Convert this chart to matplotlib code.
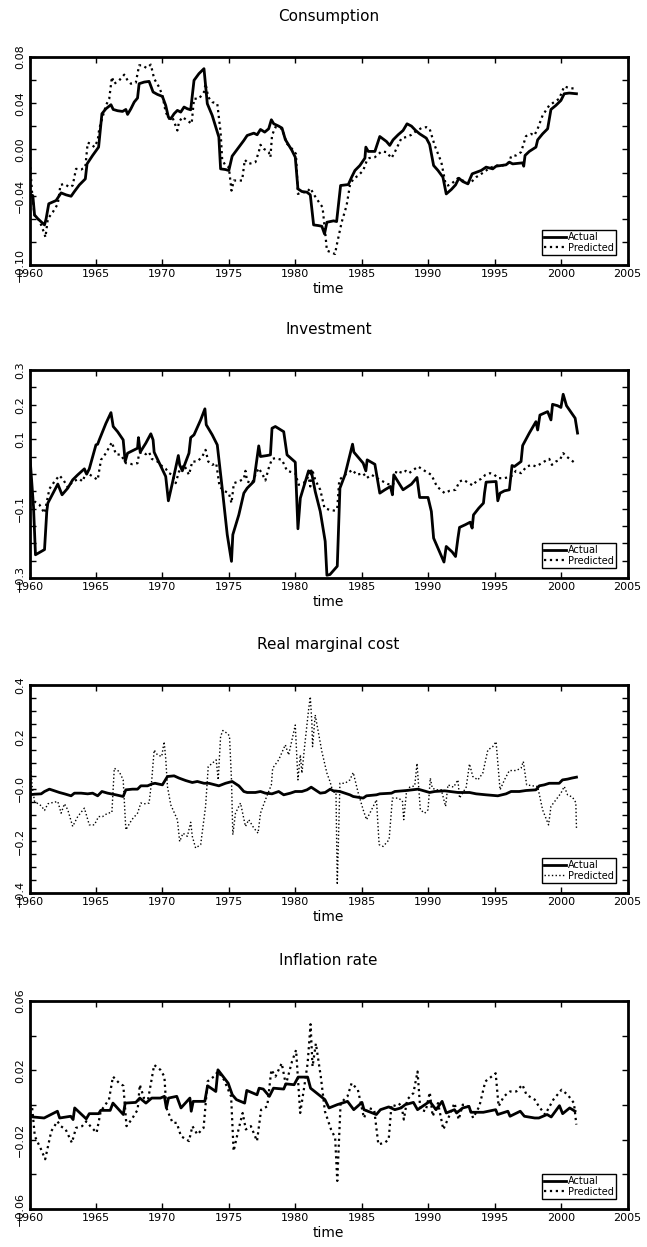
import numpy as np
import matplotlib
matplotlib.use("Agg")
import matplotlib.pyplot as plt

plt.rcParams['font.family'] = ['DejaVu Sans']

# (year, value) vertices, one list per series
cons_actual = [(1960.0, -0.0385), (1960.25, -0.040), (1960.38, -0.0567), (1960.63, -0.060), (1961.13, -0.0653),
               (1961.25, -0.060), (1961.45, -0.047), (1962.0, -0.0442), (1962.38, -0.0376), (1962.75, -0.0393),
               (1963.13, -0.0405), (1963.38, -0.0364), (1963.75, -0.0307), (1964.2, -0.0255), (1964.33, -0.0125),
               (1964.75, -0.0052), (1965.2, 0.002), (1965.45, 0.0309), (1965.75, 0.0352), (1966.13, 0.0387),
               (1966.3, 0.0346), (1966.63, 0.0335), (1967.0, 0.0329), (1967.25, 0.0346), (1967.38, 0.0303),
               (1967.63, 0.0352), (1967.88, 0.041), (1968.13, 0.0445), (1968.25, 0.0569), (1968.63, 0.0583),
               (1969.0, 0.0589), (1969.3, 0.0497), (1969.63, 0.0476), (1970.0, 0.0459), (1970.25, 0.0381),
               (1970.45, 0.028), (1970.63, 0.0265), (1970.88, 0.0309), (1971.13, 0.0338), (1971.38, 0.0323),
               (1971.63, 0.0367), (1971.88, 0.0352), (1972.13, 0.0343), (1972.38, 0.0598), (1972.75, 0.0656),
               (1973.13, 0.0699), (1973.38, 0.0396), (1973.75, 0.0294), (1974.25, 0.0107), (1974.38, -0.0168),
               (1974.75, -0.0174), (1975.0, -0.0182), (1975.25, -0.0058), (1975.75, 0.002), (1976.13, 0.0078),
               (1976.38, 0.0121), (1976.88, 0.0141), (1977.13, 0.0127), (1977.38, 0.0173), (1977.7, 0.015),
               (1978.0, 0.0179), (1978.2, 0.0257), (1978.38, 0.0222), (1978.75, 0.0202), (1979.0, 0.0185),
               (1979.25, 0.0086), (1979.75, -0.0009), (1980.0, -0.0067), (1980.2, -0.0341), (1980.5, -0.0364),
               (1980.88, -0.037), (1981.13, -0.0393), (1981.38, -0.0653), (1981.75, -0.0659), (1982.0, -0.0665),
               (1982.2, -0.0731), (1982.38, -0.063), (1982.88, -0.0618), (1983.11, -0.0624), (1983.41, -0.0312),
               (1983.99, -0.0304), (1984.24, -0.024), (1984.49, -0.0182), (1984.86, -0.0139), (1985.24, -0.0075),
               (1985.31, 0.002), (1985.49, -0.0017), (1985.99, -0.0017), (1986.36, 0.0112), (1986.86, 0.0069),
               (1987.11, 0.0035), (1987.36, 0.0083), (1987.74, 0.0127), (1988.11, 0.0164), (1988.41, 0.0222),
               (1988.74, 0.0202), (1989.06, 0.0164), (1989.36, 0.0135), (1989.86, 0.0098), (1990.11, 0.0043),
               (1990.41, -0.0139), (1990.74, -0.0182), (1991.11, -0.024), (1991.36, -0.0385), (1991.74, -0.0347),
               (1992.06, -0.0307), (1992.31, -0.0249), (1992.61, -0.0278), (1992.99, -0.0298), (1993.31, -0.0211),
               (1993.99, -0.0182), (1994.36, -0.0153), (1994.86, -0.0168), (1995.11, -0.0145), (1995.86, -0.0133),
               (1996.11, -0.011), (1996.36, -0.0125), (1997.11, -0.0116), (1997.19, -0.0145), (1997.29, -0.0052),
               (1997.61, -0.0017), (1998.11, 0.002), (1998.24, 0.0083), (1998.61, 0.0135), (1998.99, 0.0179),
               (1999.24, 0.0346), (1999.61, 0.0381), (1999.99, 0.0424), (2000.24, 0.0482), (2000.61, 0.0488),
               (2001.16, 0.0482)]

cons_pred = [(1960.0, -0.0052), (1960.2, -0.0385), (1960.38, -0.0572), (1960.75, -0.0616), (1961.13, -0.0731),
             (1961.2, -0.076), (1961.38, -0.060), (1961.75, -0.0543), (1962.13, -0.0471), (1962.33, -0.0307),
             (1962.63, -0.0298), (1963.0, -0.0327), (1963.25, -0.0312), (1963.5, -0.0168), (1963.88, -0.0174),
             (1964.2, -0.0153), (1964.38, 0.0058), (1964.63, 0.0049), (1964.88, 0.002), (1965.13, 0.0078),
             (1965.25, 0.0179), (1965.75, 0.0381), (1966.0, 0.0439), (1966.2, 0.0627), (1966.38, 0.0569),
             (1966.75, 0.0598), (1967.13, 0.0647), (1967.38, 0.0598), (1967.63, 0.0569), (1968.0, 0.0578),
             (1968.25, 0.0728), (1968.5, 0.0728), (1968.8, 0.0705), (1969.13, 0.0734), (1969.38, 0.0612),
             (1969.75, 0.054), (1970.0, 0.0468), (1970.25, 0.0323), (1970.5, 0.0265), (1970.75, 0.028),
             (1971.13, 0.0164), (1971.25, 0.0237), (1971.5, 0.028), (1971.88, 0.0251), (1972.2, 0.0222),
             (1972.38, 0.0439), (1972.75, 0.0439), (1973.13, 0.0497), (1973.25, 0.0569), (1973.45, 0.0453),
             (1973.75, 0.041), (1974.13, 0.0396), (1974.38, 0.015), (1974.5, -0.009), (1974.75, -0.0139),
             (1975.0, -0.0153), (1975.2, -0.0356), (1975.38, -0.0269), (1975.63, -0.0269), (1976.0, -0.0269),
             (1976.2, -0.009), (1976.5, -0.0125), (1977.0, -0.011), (1977.25, -0.0023), (1977.38, 0.004),
             (1977.63, 0.0006), (1978.0, -0.0023), (1978.13, -0.0067), (1978.25, 0.0121), (1978.5, 0.0193),
             (1979.0, 0.0179), (1979.38, 0.0049), (1979.75, 0.0006), (1980.05, -0.0038), (1980.2, -0.0385),
             (1980.5, -0.037), (1980.88, -0.037), (1981.13, -0.0335), (1981.45, -0.0399), (1981.75, -0.0451),
             (1982.05, -0.050), (1982.25, -0.0717), (1982.38, -0.0876), (1982.63, -0.0887), (1982.99, -0.0905),
             (1983.11, -0.0833), (1983.49, -0.063), (1983.86, -0.0486), (1984.11, -0.0312), (1984.36, -0.0255),
             (1984.74, -0.0226), (1985.11, -0.0182), (1985.36, -0.0104), (1985.56, -0.0075), (1985.99, -0.0067),
             (1986.49, -0.0017), (1986.86, -0.0023), (1987.24, -0.0075), (1987.49, -0.0023), (1987.99, 0.0098),
             (1988.36, 0.0107), (1988.74, 0.0127), (1988.99, 0.015), (1989.49, 0.0185), (1989.86, 0.0193),
             (1990.11, 0.0179), (1990.49, 0.0035), (1990.99, -0.011), (1991.31, -0.0298), (1991.49, -0.0312),
             (1991.74, -0.0298), (1992.24, -0.0249), (1992.61, -0.0269), (1993.11, -0.0298), (1993.61, -0.024),
             (1994.11, -0.0203), (1994.61, -0.0162), (1995.11, -0.0139), (1995.61, -0.0139), (1996.11, -0.011),
             (1996.24, -0.0058), (1996.61, -0.0052), (1996.99, -0.0023), (1997.36, 0.0115), (1997.74, 0.0135),
             (1997.99, 0.0121), (1998.24, 0.0179), (1998.61, 0.0294), (1999.11, 0.0381), (1999.49, 0.041),
             (1999.86, 0.0439), (2000.24, 0.0546), (2000.61, 0.0531), (2001.11, 0.0526)]

inv_actual = [(1960.05, 0.0408), (1960.3, -0.0936), (1960.45, -0.233), (1961.13, -0.218), (1961.3, -0.108),
              (1961.38, -0.084), (1962.13, -0.029), (1962.45, -0.060), (1962.88, -0.0408), (1963.25, -0.0168),
              (1963.63, -0.0024), (1964.13, 0.0149), (1964.3, -0.0005), (1964.5, 0.0149), (1965.0, 0.084),
              (1965.13, 0.086), (1965.25, 0.0984), (1965.75, 0.146), (1966.13, 0.177), (1966.3, 0.137),
              (1966.63, 0.122), (1967.05, 0.0984), (1967.2, 0.036), (1967.38, 0.060), (1967.75, 0.067),
              (1968.13, 0.0744), (1968.2, 0.105), (1968.33, 0.063), (1968.75, 0.0888), (1969.13, 0.116),
              (1969.3, 0.0984), (1969.38, 0.063), (1970.25, -0.0072), (1970.45, -0.0773), (1970.75, -0.0264),
              (1971.2, 0.0533), (1971.3, 0.0264), (1971.5, 0.0091), (1972.0, 0.060), (1972.13, 0.105),
              (1972.38, 0.113), (1972.88, 0.156), (1973.2, 0.188), (1973.3, 0.142), (1973.75, 0.113),
              (1974.13, 0.084), (1974.5, -0.0408), (1974.88, -0.175), (1975.2, -0.252), (1975.3, -0.175),
              (1975.75, -0.118), (1976.13, -0.0552), (1976.38, -0.0408), (1976.88, -0.0216), (1977.25, 0.0811),
              (1977.38, 0.0504), (1977.88, 0.0533), (1978.13, 0.0552), (1978.25, 0.132), (1978.5, 0.137),
              (1979.13, 0.122), (1979.38, 0.0552), (1980.0, 0.0341), (1980.2, -0.158), (1980.38, -0.0696),
              (1981.0, 0.0091), (1981.13, 0.0024), (1981.2, 0.0091), (1981.5, -0.0504), (1981.88, -0.108),
              (1982.25, -0.194), (1982.38, -0.292), (1982.61, -0.290), (1983.16, -0.266), (1983.36, -0.0408),
              (1983.74, -0.0024), (1984.31, 0.086), (1984.41, 0.063), (1985.11, 0.0312), (1985.31, 0.0091),
              (1985.41, 0.0408), (1985.99, 0.028), (1986.36, -0.0552), (1986.74, -0.0456), (1987.16, -0.036),
              (1987.31, -0.060), (1987.41, -0.0024), (1988.11, -0.0456), (1988.74, -0.0293), (1989.16, -0.010),
              (1989.36, -0.0677), (1989.99, -0.0677), (1990.24, -0.108), (1990.41, -0.185), (1990.74, -0.214),
              (1991.19, -0.254), (1991.36, -0.209), (1991.81, -0.225), (1992.06, -0.238), (1992.24, -0.185),
              (1992.36, -0.154), (1992.81, -0.146), (1993.16, -0.139), (1993.31, -0.156), (1993.41, -0.118),
              (1993.81, -0.0984), (1994.16, -0.084), (1994.24, -0.0552), (1994.36, -0.0235), (1995.11, -0.0216),
              (1995.24, -0.0773), (1995.41, -0.0552), (1995.74, -0.0485), (1996.11, -0.0456), (1996.31, 0.0245),
              (1996.49, 0.0216), (1996.99, 0.036), (1997.11, 0.0821), (1997.61, 0.118), (1998.11, 0.151),
              (1998.24, 0.127), (1998.41, 0.170), (1998.99, 0.180), (1999.24, 0.156), (1999.36, 0.201),
              (1999.74, 0.197), (1999.99, 0.192), (2000.16, 0.230), (2000.41, 0.197), (2001.06, 0.161),
              (2001.24, 0.118)]

inv_pred = [(1960.05, -0.012), (1960.13, -0.0552), (1960.38, -0.0792), (1960.75, -0.0888), (1961.13, -0.113),
            (1961.5, -0.0427), (1961.88, -0.0216), (1962.25, -0.0043), (1962.55, -0.0168), (1962.88, -0.0389),
            (1963.25, -0.0216), (1963.75, -0.0139), (1964.0, -0.0216), (1964.25, 0.0053), (1964.75, -0.0072),
            (1965.13, -0.0168), (1965.38, 0.0408), (1965.75, 0.060), (1966.2, 0.0917), (1966.5, 0.0571),
            (1966.88, 0.0552), (1967.25, 0.0312), (1967.75, 0.0283), (1968.13, 0.0312), (1968.25, 0.060),
            (1968.5, 0.063), (1968.75, 0.0571), (1969.0, 0.063), (1969.2, 0.0437), (1969.63, 0.036),
            (1970.0, 0.0216), (1970.25, 0.0149), (1970.5, 0.0024), (1970.75, -0.0024), (1971.0, -0.0264),
            (1971.25, 0.0072), (1971.63, 0.0264), (1972.0, -0.0024), (1972.25, 0.036), (1972.63, 0.036),
            (1973.0, 0.0504), (1973.25, 0.0696), (1973.45, 0.036), (1973.75, 0.0264), (1974.05, 0.0312),
            (1974.3, -0.036), (1974.63, -0.0485), (1975.0, -0.0552), (1975.2, -0.084), (1975.38, -0.0264),
            (1975.75, -0.0216), (1976.13, -0.0139), (1976.25, 0.0091), (1976.38, -0.0216), (1976.75, -0.0264),
            (1977.0, -0.0024), (1977.25, 0.0168), (1977.55, -0.0024), (1977.75, -0.0187), (1978.0, 0.0168),
            (1978.25, 0.0437), (1978.5, 0.0456), (1979.0, 0.0408), (1979.38, 0.0091), (1980.0, 0.0024),
            (1980.25, -0.0312), (1980.63, -0.0264), (1981.0, -0.0072), (1981.13, -0.036), (1981.3, 0.0091),
            (1981.5, -0.0168), (1981.88, -0.0456), (1982.2, -0.0984), (1982.55, -0.103), (1982.99, -0.106),
            (1983.16, -0.0984), (1983.31, -0.0168), (1983.74, -0.0024), (1984.31, 0.012), (1984.61, -0.0024),
            (1985.11, 0.0024), (1985.36, -0.012), (1985.74, -0.0024), (1986.36, -0.0168), (1986.99, -0.0293),
            (1987.36, -0.0312), (1987.61, 0.0091), (1988.11, 0.0024), (1988.31, 0.0091), (1988.56, 0.0024),
            (1989.24, 0.0216), (1989.74, 0.0091), (1990.24, -0.0024), (1990.66, -0.036), (1991.24, -0.0552),
            (1991.61, -0.0485), (1992.06, -0.0456), (1992.36, -0.0216), (1992.66, -0.0168), (1993.06, -0.0264),
            (1993.36, -0.0331), (1993.61, -0.0216), (1993.99, -0.0139), (1994.31, -0.0024), (1994.66, 0.0024),
            (1994.99, -0.0024), (1995.24, -0.012), (1995.74, -0.012), (1996.24, -0.0072), (1996.61, 0.0091),
            (1996.99, 0.0024), (1997.41, 0.0216), (1997.81, 0.0264), (1998.11, 0.0216), (1998.41, 0.0283),
            (1998.74, 0.036), (1999.11, 0.0437), (1999.31, 0.0264), (1999.61, 0.036), (1999.91, 0.0408),
            (2000.16, 0.060), (2000.41, 0.0504), (2000.74, 0.0408), (2001.16, 0.0283)]

rmc_actual = [(1960.0, -0.0224), (1960.38, -0.020), (1960.88, -0.0186), (1961.13, -0.0096), (1961.5, -0.0006),
              (1961.88, -0.007), (1962.25, -0.0134), (1962.63, -0.0186), (1963.13, -0.0262), (1963.38, -0.016),
              (1963.88, -0.016), (1964.38, -0.0186), (1964.75, -0.016), (1965.13, -0.0262), (1965.45, -0.0096),
              (1965.88, -0.016), (1966.5, -0.0224), (1967.05, -0.0288), (1967.25, -0.0032), (1967.75, -0.0006),
              (1968.13, -0.0006), (1968.38, 0.0122), (1968.88, 0.0122), (1969.25, 0.020), (1969.45, 0.022),
              (1969.75, 0.0186), (1970.0, 0.016), (1970.38, 0.048), (1970.88, 0.0506), (1971.25, 0.042),
              (1971.75, 0.0326), (1972.25, 0.025), (1972.63, 0.029), (1973.13, 0.022), (1973.5, 0.022),
              (1974.25, 0.0122), (1974.75, 0.022), (1975.25, 0.029), (1975.75, 0.0122), (1976.13, -0.0096),
              (1976.38, -0.0134), (1977.0, -0.0134), (1977.38, -0.0096), (1977.75, -0.016), (1978.25, -0.0186),
              (1978.75, -0.0096), (1979.13, -0.0224), (1979.63, -0.016), (1980.0, -0.0096), (1980.5, -0.0096),
              (1980.88, -0.0032), (1981.2, 0.007), (1981.5, -0.0032), (1981.88, -0.016), (1982.25, -0.0134),
              (1982.63, -0.0006), (1982.86, -0.007), (1983.36, -0.0096), (1984.11, -0.0224), (1984.36, -0.0288),
              (1985.11, -0.035), (1985.36, -0.0262), (1986.11, -0.0224), (1986.36, -0.0186), (1987.24, -0.016),
              (1987.49, -0.0096), (1988.36, -0.0058), (1989.24, -0.0006), (1990.11, -0.0134), (1990.49, -0.0096),
              (1991.24, -0.007), (1992.24, -0.0134), (1993.11, -0.0134), (1993.61, -0.0186), (1994.36, -0.0224),
              (1995.24, -0.0262), (1995.86, -0.0186), (1996.24, -0.0096), (1996.86, -0.0096), (1997.36, -0.0058),
              (1998.11, -0.0032), (1998.36, 0.0122), (1998.74, 0.016), (1999.11, 0.022), (1999.86, 0.022),
              (2000.11, 0.035), (2000.49, 0.038), (2000.81, 0.042), (2001.16, 0.0455)]

rmc_pred = [(1960.05, 0.125), (1960.2, 0.0096), (1960.38, -0.048), (1960.88, -0.0645), (1961.13, -0.0826),
            (1961.38, -0.057), (1961.75, -0.052), (1962.13, -0.048), (1962.38, -0.093), (1962.63, -0.057),
            (1962.88, -0.080), (1963.25, -0.144), (1963.63, -0.106), (1964.13, -0.0736), (1964.5, -0.138),
            (1964.88, -0.138), (1965.2, -0.106), (1965.5, -0.106), (1965.88, -0.093), (1966.2, -0.0902),
            (1966.38, 0.080), (1966.75, 0.067), (1967.05, 0.035), (1967.25, -0.157), (1967.7, -0.118),
            (1968.13, -0.093), (1968.38, -0.054), (1968.63, -0.057), (1969.0, -0.054), (1969.2, 0.035),
            (1969.38, 0.150), (1969.63, 0.131), (1969.95, 0.125), (1970.13, 0.182), (1970.25, 0.118),
            (1970.38, 0.0096), (1970.63, -0.061), (1971.13, -0.118), (1971.3, -0.202), (1971.55, -0.170),
            (1971.88, -0.182), (1972.13, -0.128), (1972.25, -0.182), (1972.5, -0.227), (1972.88, -0.214),
            (1973.25, -0.067), (1973.45, 0.086), (1973.75, 0.099), (1974.05, 0.112), (1974.2, 0.035),
            (1974.38, 0.202), (1974.55, 0.225), (1974.88, 0.214), (1975.05, 0.204), (1975.2, 0.035),
            (1975.3, -0.176), (1975.5, -0.093), (1975.88, -0.054), (1976.25, -0.144), (1976.5, -0.118),
            (1976.88, -0.150), (1977.2, -0.170), (1977.38, -0.093), (1977.75, -0.0416), (1978.2, 0.016),
            (1978.3, 0.080), (1978.75, 0.112), (1979.25, 0.170), (1979.5, 0.131), (1980.0, 0.246),
            (1980.2, 0.035), (1980.38, 0.131), (1980.5, 0.061), (1980.7, 0.163), (1981.0, 0.304),
            (1981.13, 0.355), (1981.25, 0.253), (1981.3, 0.163), (1981.5, 0.285), (1982.0, 0.144),
            (1982.38, 0.061), (1982.61, 0.029), (1982.86, -0.016), (1983.06, -0.0032), (1983.16, -0.368),
            (1983.36, 0.022), (1983.74, 0.022), (1984.11, 0.035), (1984.36, 0.0634), (1984.74, -0.016),
            (1985.11, -0.080), (1985.36, -0.118), (1985.74, -0.080), (1986.11, -0.0416), (1986.31, -0.214),
            (1986.61, -0.221), (1987.06, -0.195), (1987.31, -0.035), (1987.74, -0.035), (1988.06, -0.0448),
            (1988.16, -0.118), (1988.36, -0.016), (1988.61, 0.007), (1988.99, 0.0122), (1989.16, 0.099),
            (1989.41, -0.080), (1989.74, -0.093), (1989.99, -0.080), (1990.16, 0.042), (1990.31, 0.0032),
            (1990.61, -0.0032), (1990.99, -0.0032), (1991.31, -0.067), (1991.49, 0.016), (1991.91, 0.007),
            (1992.24, 0.035), (1992.36, -0.035), (1992.86, 0.007), (1993.11, 0.0966), (1993.36, 0.048),
            (1993.74, 0.035), (1994.11, 0.061), (1994.49, 0.150), (1994.86, 0.163), (1995.11, 0.182),
            (1995.41, -0.0032), (1995.74, 0.035), (1996.11, 0.071), (1996.61, 0.071), (1996.99, 0.080),
            (1997.16, 0.106), (1997.41, 0.016), (1997.86, 0.0122), (1998.24, 0.0096), (1998.61, -0.080),
            (1999.06, -0.138), (1999.24, -0.067), (1999.61, -0.0416), (1999.99, -0.016), (2000.24, 0.0096),
            (2000.49, -0.0224), (2000.86, -0.0314), (2001.11, -0.052), (2001.16, -0.150)]

inf_actual = [(1960.0, -0.0055), (1960.25, -0.0069), (1961.1, -0.0075), (1962.1, -0.0036), (1962.27, -0.0075),
              (1963.1, -0.0065), (1963.28, -0.0084), (1963.4, -0.0017), (1964.27, -0.008), (1964.5, -0.005),
              (1965.2, -0.005), (1965.36, -0.0031), (1966.07, -0.0031), (1966.28, 0.0011), (1967.06, -0.0055),
              (1967.2, 0.0011), (1968.0, 0.0015), (1968.3, 0.004), (1968.76, 0.0011), (1969.2, 0.004),
              (1969.85, 0.004), (1970.15, 0.005), (1970.3, -0.0017), (1970.46, 0.004), (1971.08, 0.005),
              (1971.4, -0.0017), (1972.07, 0.004), (1972.17, -0.0036), (1972.32, 0.0021), (1973.19, 0.0021),
              (1973.4, 0.0111), (1974.02, 0.0078), (1974.18, 0.0203), (1974.95, 0.0126), (1975.26, 0.0059),
              (1975.57, 0.0031), (1976.19, 0.0011), (1976.35, 0.0084), (1977.12, 0.0059), (1977.28, 0.0097),
              (1977.59, 0.0092), (1978.05, 0.005), (1978.36, 0.0097), (1979.13, 0.0092), (1979.29, 0.0122),
              (1979.91, 0.0117), (1980.22, 0.0161), (1980.93, 0.0161), (1981.15, 0.0097), (1982.23, 0.0031),
              (1982.54, -0.0017), (1983.16, 0.0002), (1983.93, 0.0021), (1984.4, -0.0027), (1985.02, 0.0015),
              (1985.17, -0.0027), (1986.1, -0.0055), (1986.41, -0.0027), (1987.03, -0.0011), (1987.49, -0.0027),
              (1987.96, -0.0017), (1988.27, 0.0002), (1988.89, 0.0015), (1989.2, -0.0027), (1990.12, 0.0021),
              (1990.59, -0.0027), (1991.05, 0.0021), (1991.36, -0.0046), (1991.98, -0.0027), (1992.14, -0.0046),
              (1992.3, -0.0036), (1992.6, -0.0017), (1993.07, -0.0008), (1993.22, -0.0042), (1994.15, -0.0042),
              (1995.08, -0.0027), (1995.23, -0.0055), (1996.0, -0.0036), (1996.16, -0.0065), (1996.93, -0.0036),
              (1997.24, -0.0065), (1998.02, -0.0075), (1998.33, -0.0075), (1998.95, -0.0055), (1999.26, -0.0069),
              (1999.88, -0.0004), (2000.12, -0.005), (2000.65, -0.0017), (2001.05, -0.0036)]

inf_pred = [(1960.0, 0.0011), (1960.19, -0.0008), (1960.4, -0.018), (1960.87, -0.0256), (1961.18, -0.0313),
            (1961.64, -0.0151), (1962.1, -0.0094), (1962.35, -0.0122), (1962.72, -0.0141), (1963.19, -0.0218),
            (1963.5, -0.0132), (1963.96, -0.0122), (1964.27, -0.0094), (1964.58, -0.0122), (1965.05, -0.016),
            (1965.36, -0.0036), (1965.98, 0.0031), (1966.28, 0.0164), (1966.75, 0.0126), (1967.06, 0.0111),
            (1967.3, -0.0122), (1967.68, -0.0084), (1968.14, -0.0027), (1968.3, 0.0117), (1968.61, 0.004),
            (1968.92, 0.0031), (1969.38, 0.0231), (1969.85, 0.0203), (1970.15, 0.0164), (1970.3, -0.0017),
            (1970.77, -0.0103), (1971.08, -0.0103), (1971.4, -0.018), (1972.0, -0.0208), (1972.26, -0.0122),
            (1972.63, -0.017), (1973.1, -0.0132), (1973.4, 0.0136), (1973.87, 0.0164), (1974.18, 0.0193),
            (1974.64, 0.0145), (1974.95, 0.0088), (1975.17, 0.005), (1975.36, -0.0266), (1975.73, -0.0141),
            (1976.04, -0.0046), (1976.28, -0.0141), (1976.66, -0.0122), (1977.12, -0.0208), (1977.43, -0.0027),
            (1977.89, -0.0008), (1978.2, 0.0203), (1978.51, 0.0164), (1978.98, 0.0241), (1979.29, 0.0117),
            (1979.75, 0.025), (1980.06, 0.0317), (1980.37, -0.0046), (1980.68, 0.0107), (1980.93, 0.0241),
            (1981.15, 0.0466), (1981.3, 0.0222), (1981.55, 0.0355), (1981.92, 0.0164), (1982.23, -0.0036),
            (1982.69, -0.0141), (1983.0, -0.0189), (1983.16, -0.0438), (1983.41, 0.0011), (1983.93, 0.005),
            (1984.24, 0.0126), (1984.71, 0.0088), (1985.17, -0.0075), (1985.48, -0.0017), (1985.94, -0.0027),
            (1986.25, -0.0227), (1986.72, -0.0218), (1987.03, -0.0199), (1987.24, 0.0002), (1987.65, -0.0008),
            (1987.96, 0.0011), (1988.17, -0.0084), (1988.42, 0.0031), (1988.89, 0.0069), (1989.2, 0.0193),
            (1989.41, -0.0027), (1989.81, -0.0036), (1990.12, 0.0073), (1990.34, -0.0065), (1990.74, 0.0011),
            (1991.14, -0.0141), (1991.52, -0.0075), (1991.98, 0.0011), (1992.3, -0.0084), (1992.6, 0.0002),
            (1993.07, -0.0008), (1993.38, -0.0075), (1993.85, -0.0008), (1994.3, 0.0136), (1994.77, 0.0164),
            (1995.08, 0.0183), (1995.3, -0.0008), (1995.7, 0.005), (1996.16, 0.0078), (1996.63, 0.0078),
            (1997.09, 0.0117), (1997.4, 0.0059), (1998.02, 0.0031), (1998.33, -0.0008), (1998.8, -0.0055),
            (1999.42, 0.0031), (2000.04, 0.0088), (2000.5, 0.0059), (2000.97, 0.0011), (2001.15, -0.0113)]

titles = ["Consumption", "Investment", "Real marginal cost", "Inflation rate"]
ylims = [(-0.10, 0.08), (-0.3, 0.3), (-0.4, 0.4), (-0.06, 0.06)]
ystep = [0.02, 0.05, 0.05, 0.02]
ylabels = [{0.08: "0.08", 0.04: "0.04", 0.0: "0.00", -0.04: "\u22120.04", -0.10: "\u22120.10"},
           {0.3: "0.3", 0.2: "0.2", 0.1: "0.1", -0.1: "\u22120.1", -0.3: "\u22120.3"},
           {0.4: "0.4", 0.2: "0.2", 0.0: "\u22120.0", -0.2: "\u22120.2", -0.4: "\u22120.4"},
           {0.06: "0.06", 0.02: "0.02", -0.02: "\u22120.02", -0.06: "\u22120.06"}]
series = [(cons_actual, cons_pred), (inv_actual, inv_pred), (rmc_actual, rmc_pred), (inf_actual, inf_pred)]
pred_lw = [1.6, 1.6, 1.0, 1.6]

W, H = 647, 1247
fig = plt.figure(figsize=(W / 100, H / 100), dpi=100)
tops = [57, 370, 685, 1001]
ax_h = 208

for i in range(4):
    ax = fig.add_axes([29.5 / W, (H - tops[i] - ax_h) / H, 598 / W, ax_h / H])
    act, pred = series[i]
    ta, va = zip(*act)
    tp, vp = zip(*pred)
    ax.plot(ta, va, color='black', lw=2.0, ls='-', label='Actual')
    ax.plot(tp, vp, color='black', lw=pred_lw[i], ls=':', label='Predicted')

    ax.set_xlim(1960, 2005)
    ax.set_ylim(*ylims[i])
    ax.set_xticks(np.arange(1960, 2006, 5))
    lo, hi = ylims[i]
    n = int(round((hi - lo) / ystep[i]))
    yt = [round(lo + k * ystep[i], 4) for k in range(n + 1)]
    ax.set_yticks(yt)
    labs = []
    for v in yt:
        lab = ""
        for key, s in ylabels[i].items():
            if abs(key - v) < 1e-6:
                lab = s
        labs.append(lab)
    ax.set_yticklabels(labs, rotation=90, va='center')

    ax.tick_params(direction='in', top=True, right=True, length=4, width=1, labelsize=8)
    ax.tick_params(axis='x', pad=3)
    ax.tick_params(axis='y', pad=3)
    for sp in ax.spines.values():
        sp.set_linewidth(2.0)

    ax.set_title(titles[i], fontsize=11, pad=26)
    ax.set_xlabel('time', fontsize=10, labelpad=2)

    leg = ax.legend(loc='lower right', bbox_to_anchor=(0.981, 0.048), borderaxespad=0,
                    fontsize=7, fancybox=False, edgecolor='black', framealpha=1,
                    handlelength=2.2, handletextpad=0.2, labelspacing=0.05, borderpad=0.25)
    leg.get_frame().set_linewidth(1.0)

fig.savefig('out.png', dpi=100)
